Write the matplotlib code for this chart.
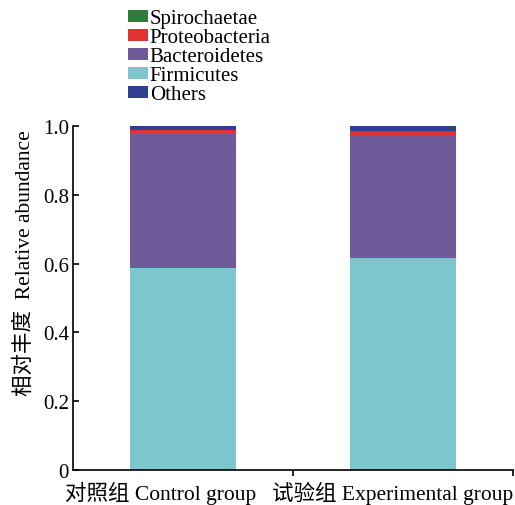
import matplotlib
matplotlib.use('Agg')
import matplotlib.pyplot as plt
from matplotlib.patches import Patch
from matplotlib.ticker import FuncFormatter

plt.rcParams['font.family'] = ['Liberation Serif', 'Noto Sans CJK SC']

groups = ['对照组 Control group', '试验组 Experimental group']
phyla = ['Firmicutes', 'Bacteroidetes', 'Proteobacteria', 'Spirochaetae', 'Others']
firmicutes = [0.587, 0.616]
bacteroidetes = [0.394, 0.356]
proteobacteria = [0.007, 0.010]
spirochaetae = [0.001, 0.004]
others = [0.011, 0.014]

colors = {
    'Firmicutes': '#7ec6ce',
    'Bacteroidetes': '#6f5a9a',
    'Proteobacteria': '#e03232',
    'Spirochaetae': '#2e7d3e',
    'Others': '#2f3f8f',
}

fig = plt.figure(figsize=(5.15, 5.06), dpi=100)
ax = fig.add_axes([0.142, 0.069, 0.854, 0.68])

x = [0.5, 1.5]
bottom = [0.0, 0.0]
for name, vals in zip(phyla, [firmicutes, bacteroidetes, proteobacteria, spirochaetae, others]):
    ax.bar(x, vals, width=0.48, bottom=bottom, color=colors[name], linewidth=0)
    bottom = [b + v for b, v in zip(bottom, vals)]

ax.set_xlim(0, 2)
ax.set_ylim(0, 1.0)
ax.spines['top'].set_visible(False)
ax.spines['right'].set_visible(False)
ax.spines['left'].set_linewidth(1.2)
ax.spines['bottom'].set_linewidth(1.2)

# major ticks mark the group boundaries; group names sit a bit left of the bars
ax.set_xticks([1, 2])
ax.set_xticklabels([])
ax.set_xticks([0.4, 1.455], minor=True)
ax.set_xticklabels(groups, minor=True, fontsize=15.5)
ax.tick_params(axis='x', which='major', direction='out', length=4, width=1.2)
ax.tick_params(axis='x', which='minor', length=0, pad=8)

ax.set_yticks([0, 0.2, 0.4, 0.6, 0.8, 1.0])
ax.yaxis.set_major_formatter(FuncFormatter(lambda v, p: '0' if v == 0 else '%.1f' % v))
ax.tick_params(axis='y', direction='in', length=4, width=1.2, labelsize=15, pad=3)
ax.set_ylabel('相对丰度  Relative abundance', fontsize=15.5)
ax.yaxis.set_label_coords(-0.088, 0.605)

order = ['Spirochaetae', 'Proteobacteria', 'Bacteroidetes', 'Firmicutes', 'Others']
handles = [Patch(facecolor=colors[n], label=n) for n in order]
fig.legend(handles=handles, loc='upper left', bbox_to_anchor=(0.232, 0.996),
           frameon=False, fontsize=15, handlelength=0.95, handleheight=0.55,
           handletextpad=0.1, labelspacing=0.0, borderaxespad=0)

fig.savefig('out.png', dpi=100)
